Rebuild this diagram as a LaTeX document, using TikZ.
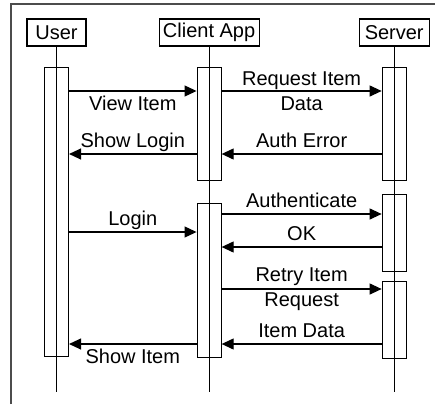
\documentclass[tikz,border=0pt]{standalone}
\usepackage{fontspec}
\setmainfont{Liberation Sans}
\usetikzlibrary{arrows.meta,positioning}
\newcommand{\msgfont}{\fontsize{20}{25}\selectfont}

\begin{document}
\begin{tikzpicture}[
    x=1pt, y=1pt,
    node distance=20pt,
    actor/.style={rectangle, draw, line width=1.1pt, minimum height=27pt, inner xsep=2pt, font=\msgfont},
    act/.style={rectangle, draw, line width=1.1pt, minimum width=24pt},
    life/.style={line width=1.1pt},
    msg/.style={-{Triangle[length=12pt,width=11pt]}, line width=1.1pt},
    tagabove/.style={font=\msgfont, inner sep=2pt, midway, above, text depth=4.2pt},
    tagbelow/.style={font=\msgfont, inner sep=2pt, midway, below=3pt, text height=14.4pt},
    tagmid/.style={font=\msgfont, inner sep=0pt, midway, align=center},
    frame/.style={line width=1.3pt, draw=black!70}
]
    \useasboundingbox (0,0) rectangle (435,-404);
    \draw[frame] (11,-404) -- (11,-4) -- (435,-4);

    \node[actor, minimum width=59pt] (user) at (56.5,-32.5) {User};
    \node[actor, minimum width=100pt, right=72pt of user] (client) {Client App};
    \node[actor, minimum width=70pt, right=99pt of client] (server) {Server};

    \node[act, minimum height=289pt, below=of user] (uact) {};
    \node[act, minimum height=113pt, below=of client] (cact1) {};
    \node[act, minimum height=154pt, below=22pt of cact1] (cact2) {};
    \node[act, minimum height=113pt, below=of server] (sact1) {};
    \node[act, minimum height=77pt, below=13pt of sact1] (sact2) {};
    \node[act, minimum height=77pt, below=9pt of sact2] (sact3) {};

    \coordinate (lend) at (0,-392);
    \draw[life] (user.south) -- (user.south |- lend);
    \draw[life] (client.south) -- (client.south |- lend);
    \draw[life] (server.south) -- (server.south |- lend);

    \coordinate (m1) at (0,-91);
    \coordinate (m2) at (0,-154);
    \coordinate (m3) at (0,-214);
    \coordinate (m4) at (0,-232);
    \coordinate (m5) at (0,-247);
    \coordinate (m6) at (0,-289);
    \coordinate (m7) at (0,-344);

    \draw[msg] (uact.east |- m1) -- (cact1.west |- m1) node[tagbelow] (viewitem) {View Item};
    \draw[msg] (cact1.east |- m1) -- (sact1.west |- m1) node[tagmid] (reqitem) {Request Item\\Data};
    \draw[msg] (cact1.west |- m2) -- (uact.east |- m2) node[tagabove] (showlogin) {Show Login};
    \draw[msg] (sact1.west |- m2) -- (cact1.east |- m2) node[tagabove] (autherr) {Auth Error};
    \draw[msg] (cact2.east |- m3) -- (sact2.west |- m3) node[tagabove] (authn) {Authenticate};
    \draw[msg] (uact.east |- m4) -- (cact2.west |- m4) node[tagabove] (login) {Login};
    \draw[msg] (sact2.west |- m5) -- (cact2.east |- m5) node[tagabove] (ok) {OK};
    \draw[msg] (cact2.east |- m6) -- (sact3.west |- m6) node[tagmid] (retry) {Retry Item\\Request};
    \draw[msg] (sact3.west |- m7) -- (cact2.east |- m7) node[tagabove] (itemdata) {Item Data};
    \draw[msg] (cact2.west |- m7) -- (uact.east |- m7) node[tagbelow] (showitem) {Show Item};
\end{tikzpicture}
\end{document}
